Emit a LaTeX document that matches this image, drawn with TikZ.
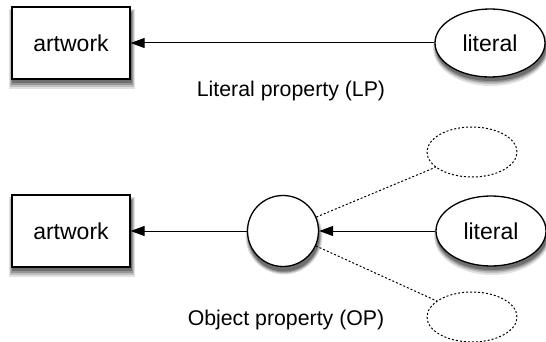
\documentclass[tikz,border=0pt]{standalone}
\usepackage{fontspec}
\setmainfont{Liberation Sans}
\usetikzlibrary{shapes.geometric,arrows.meta}
\definecolor{shA}{RGB}{225,225,225}
\definecolor{shB}{RGB}{190,190,190}
\definecolor{shC}{RGB}{150,150,150}
\definecolor{shD}{RGB}{110,110,110}
\begin{document}
\begin{tikzpicture}[x=1pt,y=-1pt,
  boxnode/.style={draw,line width=1.3pt,fill=white,rectangle,minimum width=118pt,minimum height=72pt,inner sep=0pt,font=\fontsize{23}{27}\selectfont},
  litnode/.style={draw,line width=1.3pt,fill=white,ellipse,minimum width=110pt,minimum height=68pt,inner sep=0pt,font=\fontsize{23}{27}\selectfont},
  objnode/.style={draw,line width=1.3pt,fill=white,circle,minimum size=71pt,inner sep=0pt},
  ghost/.style={draw,line width=1pt,ellipse,dash pattern=on 2pt off 2pt,minimum width=90pt,minimum height=50pt,inner sep=0pt},
  arr/.style={line width=1pt,-{Triangle[length=14pt,width=10pt]}},
  dashline/.style={line width=1pt,dash pattern=on 2pt off 2pt},
  lbl/.style={font=\fontsize{21.3}{25}\selectfont,inner sep=0pt},
  shadowA/.style={fill=shA,draw=none},
  shadowB/.style={fill=shB,draw=none},
  shadowC/.style={fill=shC,draw=none},
  shadowD/.style={fill=shD,draw=none}
]
\useasboundingbox (0,0) rectangle (546,342);
% soft shadows, outer light layers first
\path[shadowA] (9,9) rectangle (135,89);
\path[shadowB] (10,10) rectangle (134,87);
\path[shadowC] (11,11) rectangle (133,85);
\path[shadowD] (12,12) rectangle (132,83);
\path[shadowA] (9,197) rectangle (135,277);
\path[shadowB] (10,198) rectangle (134,275);
\path[shadowC] (11,199) rectangle (133,273);
\path[shadowD] (12,200) rectangle (132,271);
\path[shadowA] (491,48) ellipse [x radius=58, y radius=38];
\path[shadowB] (491,48) ellipse [x radius=57, y radius=36];
\path[shadowC] (491,48) ellipse [x radius=56, y radius=34.5];
\path[shadowD] (491,48) ellipse [x radius=55, y radius=33];
\path[shadowA] (284,236) ellipse [x radius=38.5, y radius=38.5];
\path[shadowB] (284,236) ellipse [x radius=37.5, y radius=37.5];
\path[shadowC] (284,236) ellipse [x radius=36.5, y radius=36.5];
\path[shadowD] (284,236) ellipse [x radius=35.5, y radius=35.5];
\path[shadowA] (492,236) ellipse [x radius=58, y radius=39];
\path[shadowB] (492,236) ellipse [x radius=57, y radius=37];
\path[shadowC] (492,236) ellipse [x radius=56, y radius=35.5];
\path[shadowD] (492,236) ellipse [x radius=55, y radius=34];

\node[boxnode] (art1) at (71,43) {artwork};
\node[litnode] (lit1) at (490,43) {literal};
\node[lbl] (lp) at (291,91) {Literal property (LP)};
\draw[arr] (lit1) -- (art1);

\node[ghost] (d1) at (472,152) {};
\node[ghost] (d2) at (472,317) {};
\node[boxnode] (art2) at (71,231) {artwork};
\node[objnode] (obj) at (283,231) {};
\node[litnode,minimum height=70pt] (lit2) at (491,231) {literal};
\node[lbl] (op) at (286,320) {Object property (OP)};
\draw[dashline] (obj) -- (d1);
\draw[dashline] (obj) -- (d2);
\draw[arr] (obj) -- (art2);
\draw[arr] (lit2) -- (obj);
\end{tikzpicture}
\end{document}
